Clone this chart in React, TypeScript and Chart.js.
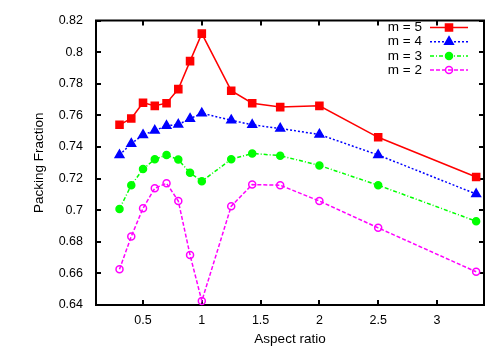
import React, { useEffect, useRef } from "react";
import { Chart, registerables } from "chart.js";

Chart.register(...registerables);

const aspectRatios = [0.3, 0.4, 0.5, 0.6, 0.7, 0.8, 0.9, 1.0, 1.25, 1.4286, 1.6667, 2.0, 2.5, 3.3333];
const m5 = [0.754, 0.758, 0.768, 0.766, 0.7677, 0.7766, 0.7943, 0.8117, 0.7756, 0.7677, 0.7652, 0.766, 0.7461, 0.721];
const m4 = [0.7349, 0.7421, 0.7476, 0.7504, 0.7534, 0.7542, 0.7579, 0.7613, 0.7569, 0.754, 0.7517, 0.7479, 0.7349, 0.7102];
const m3 = [0.7008, 0.7158, 0.726, 0.7322, 0.7349, 0.732, 0.7236, 0.7183, 0.7322, 0.7359, 0.7345, 0.7283, 0.7158, 0.693];
const m2 = [0.6626, 0.6834, 0.7012, 0.7139, 0.717, 0.7058, 0.6716, 0.6425, 0.7025, 0.7162, 0.7158, 0.7058, 0.6888, 0.661];
const seriesLabels = ["m = 5", "m = 4", "m = 3", "m = 2"];
const xTicks = [0.5, 1, 1.5, 2, 2.5, 3];
const yTicks = [0.64, 0.66, 0.68, 0.7, 0.72, 0.74, 0.76, 0.78, 0.8, 0.82];
const xTitle = "Aspect ratio";
const yTitle = "Packing Fraction";

const FONT = "'Liberation Sans', Arial, sans-serif";
const TICK_SIZE = 12.5;
const TITLE_SIZE = 13.5;

const framePlugin = {
  id: "frame",
  beforeDatasetsDraw(chart: any) {
    const { ctx, chartArea: a, scales } = chart;
    ctx.save();
    ctx.strokeStyle = "#000";
    ctx.lineWidth = 2;
    ctx.setLineDash([]);
    ctx.strokeRect(a.left, a.top, a.right - a.left, a.bottom - a.top);
    const len = 5;
    ctx.beginPath();
    for (const t of scales.x.ticks) {
      const px = Math.round(scales.x.getPixelForValue(t.value));
      ctx.moveTo(px, a.bottom);
      ctx.lineTo(px, a.bottom - len);
      ctx.moveTo(px, a.top);
      ctx.lineTo(px, a.top + len);
    }
    for (const t of scales.y.ticks) {
      const py = Math.round(scales.y.getPixelForValue(t.value));
      ctx.moveTo(a.left, py);
      ctx.lineTo(a.left + len, py);
      ctx.moveTo(a.right, py);
      ctx.lineTo(a.right - len, py);
    }
    ctx.stroke();
    ctx.restore();
  },
};

function drawMarker(ctx: CanvasRenderingContext2D, ds: any, x: number, y: number) {
  const r = ds.pointRadius;
  ctx.save();
  ctx.setLineDash([]);
  ctx.lineWidth = ds.pointBorderWidth;
  ctx.strokeStyle = ds.pointBorderColor;
  ctx.fillStyle = ds.pointBackgroundColor;
  ctx.beginPath();
  if (ds.pointStyle === "rect") {
    const s = Math.SQRT1_2 * r;
    ctx.rect(x - s, y - s, 2 * s, 2 * s);
  } else if (ds.pointStyle === "triangle") {
    const a = (-90 * Math.PI) / 180;
    const TWO_THIRDS = (2 * Math.PI) / 3;
    ctx.moveTo(x + Math.cos(a) * r, y + Math.sin(a) * r);
    ctx.lineTo(x + Math.cos(a + TWO_THIRDS) * r, y + Math.sin(a + TWO_THIRDS) * r);
    ctx.lineTo(x + Math.cos(a + 2 * TWO_THIRDS) * r, y + Math.sin(a + 2 * TWO_THIRDS) * r);
    ctx.closePath();
  } else {
    ctx.arc(x, y, r, 0, Math.PI * 2);
  }
  ctx.fill();
  ctx.stroke();
  ctx.restore();
}

const keyPlugin = {
  id: "gnukey",
  afterDraw(chart: any) {
    const { ctx } = chart;
    const textRight = 422;
    const lineStart = 430;
    const lineEnd = 468;
    const y0 = 27.5;
    const step = 14.2;
    ctx.save();
    chart.data.datasets.forEach((ds: any, i: number) => {
      const y = y0 + i * step;
      ctx.font = `${TITLE_SIZE}px ${FONT}`;
      ctx.fillStyle = "#000";
      ctx.textAlign = "right";
      ctx.textBaseline = "middle";
      ctx.fillText(ds.label, textRight, y);
      ctx.strokeStyle = ds.borderColor;
      ctx.lineWidth = ds.borderWidth;
      ctx.setLineDash(ds.borderDash || []);
      ctx.beginPath();
      ctx.moveTo(lineStart, y);
      ctx.lineTo(lineEnd, y);
      ctx.stroke();
      drawMarker(ctx, ds, (lineStart + lineEnd) / 2, y);
    });
    ctx.restore();
  },
};

function makeSeries(label: string, values: number[], color: string, dash: number[], style: string, radius: number, fill: string) {
  return {
    label,
    data: aspectRatios.map((x, i) => ({ x, y: values[i] })),
    borderColor: color,
    backgroundColor: color,
    borderWidth: 1.5,
    borderDash: dash,
    pointStyle: style,
    pointRadius: radius,
    pointHoverRadius: radius,
    pointBorderWidth: 1.5,
    pointBorderColor: color,
    pointBackgroundColor: fill,
    tension: 0,
    clip: false as any,
  };
}

export default function App() {
  const ref = useRef<HTMLCanvasElement>(null);
  useEffect(() => {
    if (!ref.current) return;
    const chart = new Chart(ref.current, {
      type: "line",
      data: {
        datasets: [
          makeSeries(seriesLabels[0], m5, "#ff0000", [], "rect", 5, "#ff0000"),
          makeSeries(seriesLabels[1], m4, "#0000ff", [2, 2], "triangle", 5, "#0000ff"),
          makeSeries(seriesLabels[2], m3, "#00ff00", [4, 2, 1, 2], "circle", 3.5, "#00ff00"),
          makeSeries(seriesLabels[3], m2, "#ff00ff", [4, 2], "circle", 3.5, "rgba(0,0,0,0)"),
        ],
      },
      options: {
        animation: false,
        responsive: false,
        maintainAspectRatio: false,
        layout: { padding: { left: 0, right: 16, top: 16, bottom: 0 } },
        plugins: { legend: { display: false }, tooltip: { enabled: false } },
        scales: {
          x: {
            type: "linear",
            min: 0.1,
            max: 3.4,
            grid: { display: false, drawTicks: false },
            border: { display: false },
            afterBuildTicks: (s: any) => {
              s.ticks = xTicks.map((v) => ({ value: v }));
            },
            afterFit: (s: any) => {
              s.height = 45;
            },
            ticks: {
              padding: 8,
              color: "#000",
              font: { family: FONT, size: TICK_SIZE },
              callback: (v: any) => String(+Number(v).toFixed(2)),
            },
            title: {
              display: true,
              text: xTitle,
              color: "#000",
              font: { family: FONT, size: TITLE_SIZE },
              padding: { top: 0, bottom: 3 },
            },
          },
          y: {
            type: "linear",
            min: 0.64,
            max: 0.82,
            grid: { display: false, drawTicks: false },
            border: { display: false },
            afterBuildTicks: (s: any) => {
              s.ticks = yTicks.map((v) => ({ value: v }));
            },
            afterFit: (s: any) => {
              s.width = 96;
            },
            ticks: {
              padding: 13,
              color: "#000",
              font: { family: FONT, size: TICK_SIZE },
              callback: (v: any) => String(+Number(v).toFixed(2)),
            },
            title: {
              display: true,
              text: yTitle,
              color: "#000",
              font: { family: FONT, size: TITLE_SIZE },
              padding: { top: 31, bottom: 0 },
            },
          },
        },
      },
      plugins: [framePlugin, keyPlugin],
    } as any);
    return () => chart.destroy();
  }, []);
  return (
    <div style={{ position: "absolute", left: 0, top: 0, width: 500, height: 350, background: "#fff" }}>
      <canvas ref={ref} width={500} height={350} />
    </div>
  );
}
